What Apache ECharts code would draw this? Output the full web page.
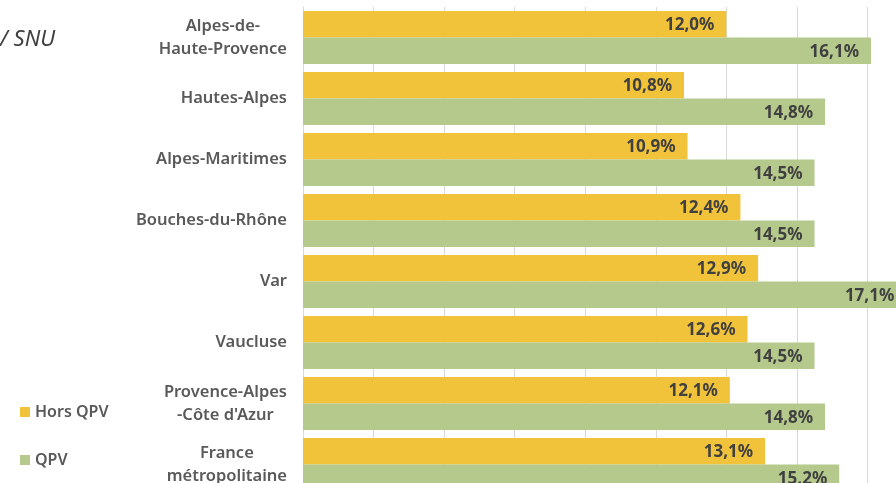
<!DOCTYPE html>
<html>
<head>
<meta charset="utf-8">
<script src="https://cdn.jsdelivr.net/npm/echarts@6/dist/echarts.min.js"></script>
<style>
  html, body { margin: 0; padding: 0; background: #fff; overflow: hidden; }
  #chart { width: 940px; height: 495px; }
</style>
</head>
<body>
<div id="chart"></div>
<script>
const categories = ['Alpes-de-\nHaute-Provence', 'Hautes-Alpes', 'Alpes-Maritimes', 'Bouches-du-Rhône',
  'Var', 'Vaucluse', 'Provence-Alpes\n-Côte d\'Azur', 'France\nmétropolitaine']
const horsQpv = [12.0, 10.8, 10.9, 12.4, 12.9, 12.6, 12.1, 13.1]
const qpv = [16.1, 14.8, 14.5, 14.5, 17.1, 14.5, 14.8, 15.2]

let dom = document.getElementById('chart')
let myChart = echarts.init(dom)

const fmt = p => p.value.toFixed(1).replace('.', ',') + '%'
const labelStyle = {
  show: true,
  position: 'insideRight',
  distance: 12,
  offset: [0, 1],
  formatter: fmt,
  color: '#404040',
  fontFamily: 'Noto Sans',
  fontWeight: 'bold',
  fontSize: 17
}

var option = {
  animation: false,
  graphic: [{
    type: 'text', left: 0, top: 29,
    style: { text: '/ SNU', fontFamily: 'Noto Sans', fontStyle: 'italic', fontSize: 22, fill: '#404040' }
  }],
  legend: {
    orient: 'vertical',
    left: 15,
    top: 399,
    itemGap: 32,
    icon: 'rect',
    itemWidth: 10,
    itemHeight: 10,
    textStyle: { color: '#595959', fontFamily: 'Noto Sans', fontWeight: 600, fontSize: 16 },
    data: ['Hors QPV', 'QPV']
  },
  grid: { left: 303, right: 2, top: 7, bottom: 0, containLabel: false },
  xAxis: {
    type: 'value',
    min: 0,
    max: 18,
    interval: 2,
    axisLabel: { show: false },
    axisLine: { show: false },
    axisTick: { show: false },
    splitLine: { lineStyle: { color: '#d9d9d9' } }
  },
  yAxis: {
    type: 'category',
    inverse: true,
    data: categories,
    axisLine: { show: true, lineStyle: { color: '#d9d9d9' } },
    axisTick: { show: false },
    axisLabel: {
      margin: 16,
      formatter: v => v.split('\n').map(s => '{c|' + s + '}').join('\n'),
      rich: {
        c: { align: 'center', color: '#595959', fontFamily: 'Noto Sans', fontWeight: 600, fontSize: 16.5, lineHeight: 23 }
      }
    }
  },
  series: [{
    name: 'Hors QPV',
    type: 'bar',
    data: horsQpv,
    barGap: '0%',
    barCategoryGap: '13%',
    itemStyle: { color: '#F1C33B' },
    label: labelStyle
  }, {
    name: 'QPV',
    type: 'bar',
    data: qpv,
    itemStyle: { color: '#B4C98B' },
    label: labelStyle
  }]
}
myChart.setOption(option)
</script>
</body>
</html>
